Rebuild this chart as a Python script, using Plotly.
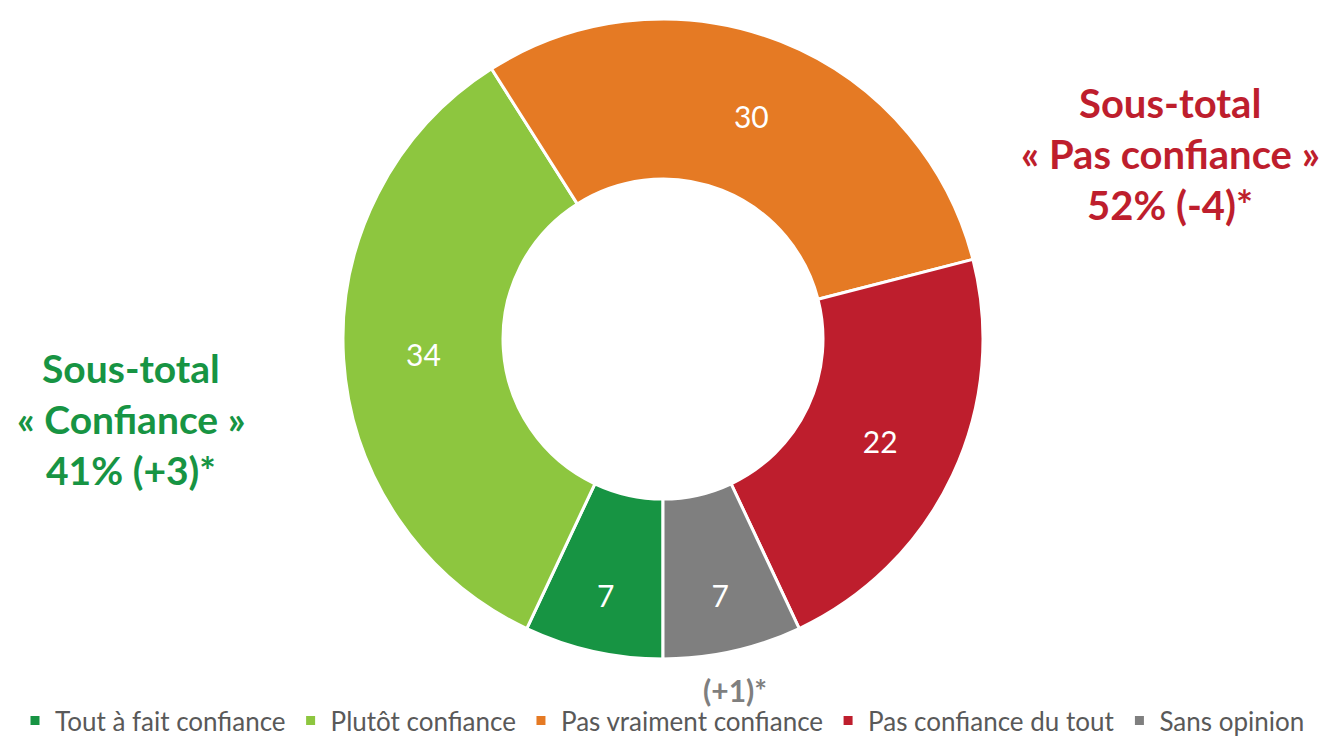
import plotly.graph_objects as go

categories = ["Tout à fait confiance", "Plutôt confiance", "Pas vraiment confiance",
              "Pas confiance du tout", "Sans opinion"]
values = [7, 34, 30, 22, 7]
colors = ["#179443", "#8DC63F", "#E57A24", "#BE1E2D", "#7F7F7F"]

W, H = 1325, 744
cx, cy, r = 663, 339, 320

fig = go.Figure(go.Pie(
    labels=categories,
    values=values,
    marker=dict(colors=colors, line=dict(color="white", width=3)),
    hole=0.5,
    sort=False,
    direction="clockwise",
    rotation=180,
    textinfo="value",
    textposition="inside",
    insidetextorientation="horizontal",
    textfont=dict(family="Lato", size=30, color="white"),
    domain=dict(x=[(cx - r) / W, (cx + r) / W], y=[(H - cy - r) / H, (H - cy + r) / H]),
    showlegend=True,
    hoverinfo="label+value",
))

def block(lines, x, y0, color, size, step):
    for i, t in enumerate(lines):
        fig.add_annotation(text=t, x=x / W, y=1 - (y0 + i * step) / H, xref="paper", yref="paper",
                           showarrow=False, xanchor="center", yanchor="middle",
                           font=dict(family="Lato", size=size, color=color))

block(["<b>Sous-total</b>", "<b>« Pas confiance »</b>", "<b>52% (-4)*</b>"], 1170, 103, "#BE1E2D", 40, 51)
block(["<b>Sous-total</b>", "<b>« Confiance »</b>", "<b>41% (+3)*</b>"], 131, 368, "#179443", 39, 51)
block(["<b>(+1)*</b>"], 735, 690, "#7F7F7F", 30, 0)

fig.update_layout(
    width=W, height=H,
    margin=dict(l=0, r=0, t=0, b=0),
    paper_bgcolor="white",
    plot_bgcolor="white",
    font=dict(family="Lato", color="#595959"),
    legend=dict(orientation="h", x=0.5, xanchor="center",
                y=0, yanchor="bottom",
                font=dict(family="Lato", size=26, color="#595959"),
                itemclick=False, itemdoubleclick=False, traceorder="normal"),
)

fig.write_html("out.html")
